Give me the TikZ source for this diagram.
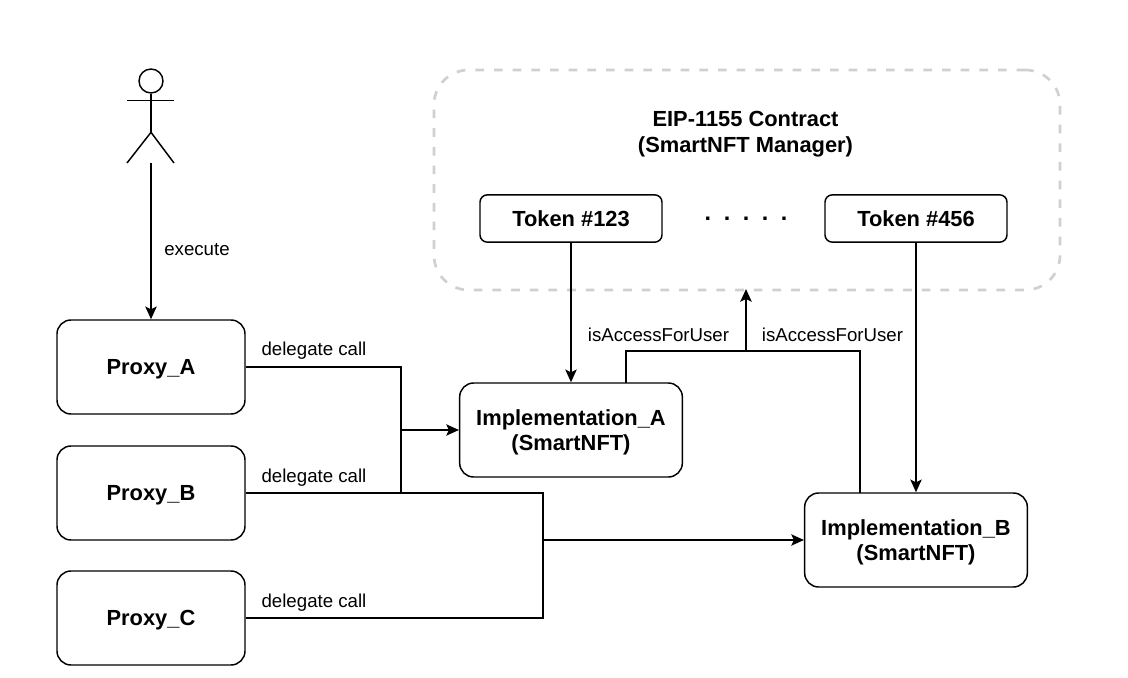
\documentclass[tikz,border=0pt]{standalone}
\usepackage{fontspec}
\setmainfont{Liberation Sans}
\usetikzlibrary{arrows.meta}
\tikzset{
  px/.style={x=0.75pt,y=-0.75pt},
  boxbig/.style={draw=black,line width=1.1pt,rounded corners=10.5pt,fill=white,align=center,font=\fontsize{16.4pt}{19.3pt}\selectfont\bfseries,inner sep=0pt,minimum width=141pt,minimum height=70.5pt},
  boximpl/.style={boxbig,minimum width=167pt},
  boxtoken/.style={boxbig,rounded corners=5.5pt,minimum width=136.5pt,minimum height=35.5pt},
  wire/.style={draw=black,line width=1.1pt},
  arrowwire/.style={wire,-{Stealth[length=9.5pt,width=8.5pt,inset=2pt]}},
  lbl/.style={font=\fontsize{14pt}{16pt}\selectfont,inner sep=0pt,anchor=base},
  title/.style={font=\fontsize{16.4pt}{19.5pt}\selectfont\bfseries,align=center,inner sep=0pt}
}
\newcommand{\oneline}[1]{\raisebox{-5.25pt}[0pt][0pt]{#1}}
\newcommand{\twolines}[2]{\raisebox{3.75pt}[0pt][0pt]{\begin{tabular}[t]{@{}c@{}}#1\\#2\end{tabular}}}
\begin{document}
\begin{tikzpicture}[px]
\useasboundingbox (0,0) rectangle (1128,678);
\fill[white] (0,0) rectangle (1128,678);
% container
\node[draw={rgb,255:red,208;green,208;blue,208},line width=2pt,dash pattern=on 6.5pt off 7.5pt,rounded corners=26pt,minimum width=469.5pt,minimum height=165pt,inner sep=0pt] (mgr) at (747,180) {};
\node[title] (mgrt) at (745.5,134.5) {EIP-1155 Contract\\(SmartNFT Manager)};
% tokens
\node[boxtoken] (t1) at (571,218.5) {\raisebox{-0.5pt}{Token \#123}};
\node[boxtoken] (t2) at (916,218.5) {\raisebox{-0.5pt}{Token \#456}};
\node[font=\fontsize{17.5pt}{20pt}\selectfont\bfseries,inner sep=0pt,anchor=base] (dots) at (746,220) {.\hspace{9.4pt}.\hspace{9.4pt}.\hspace{9.4pt}.\hspace{9.4pt}.};
% proxies
\node[boxbig] (pa) at (151,367) {\oneline{Proxy\_A}};
\node[boxbig] (pb) at (151,493) {\oneline{Proxy\_B}};
\node[boxbig] (pc) at (151,618) {\oneline{Proxy\_C}};
% implementations
\node[boximpl] (ia) at (571,430) {\twolines{Implementation\_A}{(SmartNFT)}};
\node[boximpl] (ib) at (916,540) {\twolines{Implementation\_B}{(SmartNFT)}};
% actor
\node[circle,draw=black,line width=1.1pt,minimum size=18pt,inner sep=0pt] (head) at (151,81) {};
\coordinate (hip) at (151,132.3);
\coordinate (armL) at (127,100.7);
\coordinate (armR) at (174,100.7);
\coordinate (legL) at (127,163);
\coordinate (legR) at (174,163);
\coordinate (actorbase) at (151,163);
\draw[wire] (head.south) -- (hip);
\draw[wire] (armL) -- (armR);
\draw[wire] (legL) -- (hip) -- (legR);
% connectors
\draw[arrowwire] (actorbase) -- (pa.north -| actorbase);
\coordinate (j1) at (401,430);
\coordinate (j2) at (543,540);
\draw[wire] (pa.east) -| (j1);
\draw[wire] (pb.east) -| (j1);
\draw[arrowwire] (j1) -- (ia.west |- j1);
\draw[wire] (pb.east) -| (j2);
\draw[wire] (pc.east) -| (j2);
\draw[arrowwire] (j2) -- (ib.west |- j2);
\draw[arrowwire] (t1.south) -- (ia.north);
\draw[arrowwire] (t2.south) -- (ib.north);
\coordinate (bus) at (746,351);
\coordinate (ia626) at (626,383);
\coordinate (ib860) at (860,493);
\coordinate (mgrin) at (746,289);
\draw[wire] (ia626) |- (bus);
\draw[wire] (ib860) |- (bus);
\draw[arrowwire] (bus) -- (mgrin);
% labels
\node[lbl] (l0) at (197,255) {execute};
\node[lbl] (l1) at (314,355.5) {delegate call};
\node[lbl] (l2) at (314,482) {delegate call};
\node[lbl] (l3) at (314,607.5) {delegate call};
\node[lbl] (l4) at (658.5,341) {isAccessForUser};
\node[lbl] (l5) at (832.5,341) {isAccessForUser};
\end{tikzpicture}
\end{document}
